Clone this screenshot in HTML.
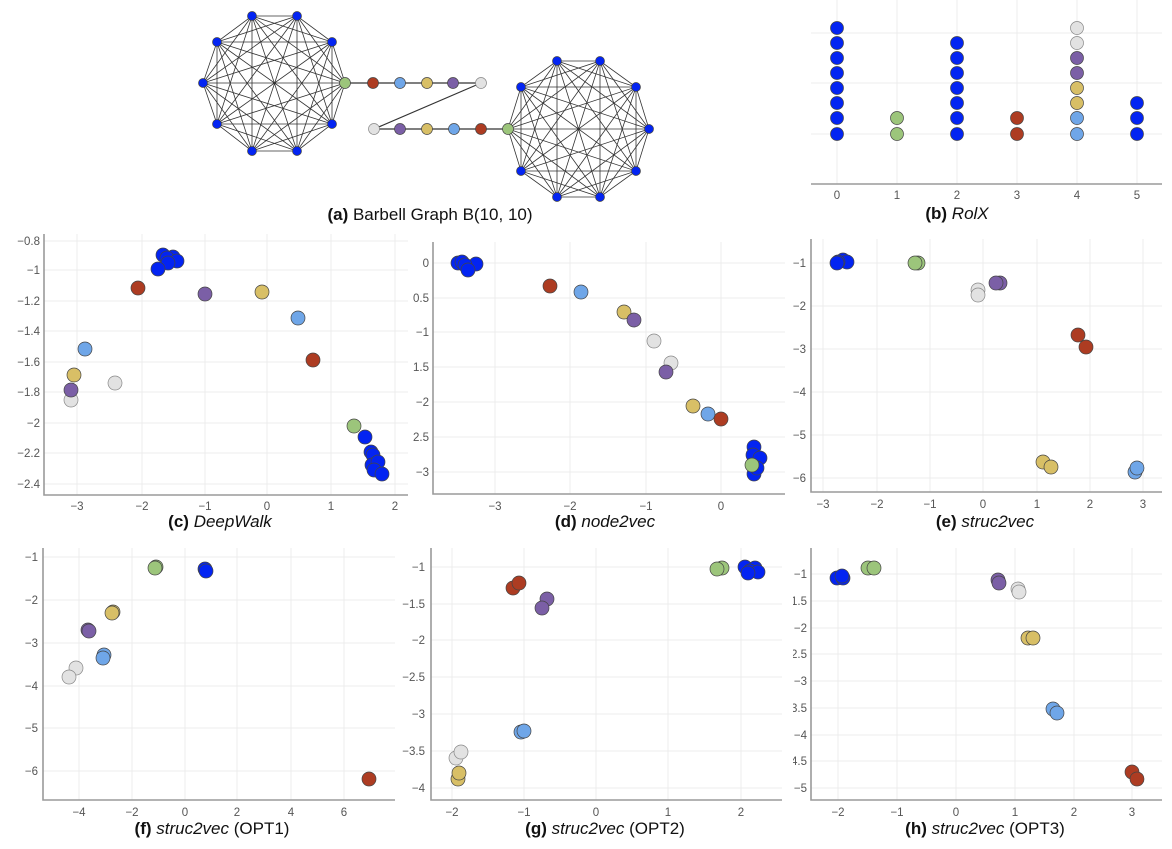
<!DOCTYPE html>
<html><head><meta charset="utf-8"><style>
html,body{margin:0;padding:0;background:#fff;}
svg{display:block;font-family:"Liberation Sans",sans-serif;}
.g{stroke:#ececec;stroke-width:1;}
.ax{stroke:#9a9a9a;stroke-width:1.6;fill:none;}
.t{font-size:11.5px;fill:#555;}
.cap{font-size:17px;fill:#111;}
circle{stroke:#444;stroke-width:0.7;}
.B{fill:#0324f2;} .G{fill:#9cc57b;} .R{fill:#ad3c22;} .L{fill:#6fa6e8;} .Y{fill:#d8bf66;} .P{fill:#7b5fa6;} .W{fill:#e2e2e2;stroke:#888;}
.e{fill:none;stroke:#333;stroke-width:0.8;}
</style></head><body>
<svg width="1172" height="849" viewBox="0 0 1172 849">
<!-- (a) barbell -->
<g class="e">
<polygon points="203,83 217,42 252,16 297,16 332,42 345,83 332,124 297,151 252,151 217,124"/>
<polygon points="203,83 252,16 332,42 332,124 252,151"/>
<polygon points="217,42 297,16 345,83 297,151 217,124"/>
<polygon points="203,83 297,16 332,124 217,124 252,16 345,83 252,151 217,42 332,42 297,151"/>
<polygon points="203,83 332,42 252,151 252,16 332,124"/>
<polygon points="217,42 345,83 217,124 297,16 297,151"/>
<path d="M203,83L345,83M217,42L332,124M252,16L297,151M297,16L252,151M332,42L217,124"/>
<polygon points="508,129 521,87 557,61 600,61 636,87 649,129 636,171 600,197 557,197 521,171"/>
<polygon points="508,129 557,61 636,87 636,171 557,197"/>
<polygon points="521,87 600,61 649,129 600,197 521,171"/>
<polygon points="508,129 600,61 636,171 521,171 557,61 649,129 557,197 521,87 636,87 600,197"/>
<polygon points="508,129 636,87 557,197 557,61 636,171"/>
<polygon points="521,87 649,129 521,171 600,61 600,197"/>
<path d="M508,129L649,129M521,87L636,171M557,61L600,197M600,61L557,197M636,87L521,171"/>
<path d="M345,83L481,83L374,129L508,129" stroke-width="1.2"/>
</g>
<g>
<circle class="B" cx="203" cy="83" r="4.5"/><circle class="B" cx="217" cy="42" r="4.5"/><circle class="B" cx="252" cy="16" r="4.5"/><circle class="B" cx="297" cy="16" r="4.5"/><circle class="B" cx="332" cy="42" r="4.5"/><circle class="B" cx="332" cy="124" r="4.5"/><circle class="B" cx="297" cy="151" r="4.5"/><circle class="B" cx="252" cy="151" r="4.5"/><circle class="B" cx="217" cy="124" r="4.5"/>
<circle class="G" cx="345" cy="83" r="5.5"/>
<circle class="R" cx="373" cy="83" r="5.5"/><circle class="L" cx="400" cy="83" r="5.5"/><circle class="Y" cx="427" cy="83" r="5.5"/><circle class="P" cx="453" cy="83" r="5.5"/><circle class="W" cx="481" cy="83" r="5.5"/>
<circle class="W" cx="374" cy="129" r="5.5"/><circle class="P" cx="400" cy="129" r="5.5"/><circle class="Y" cx="427" cy="129" r="5.5"/><circle class="L" cx="454" cy="129" r="5.5"/><circle class="R" cx="481" cy="129" r="5.5"/>
<circle class="G" cx="508" cy="129" r="5.5"/>
<circle class="B" cx="521" cy="87" r="4.5"/><circle class="B" cx="557" cy="61" r="4.5"/><circle class="B" cx="600" cy="61" r="4.5"/><circle class="B" cx="636" cy="87" r="4.5"/><circle class="B" cx="649" cy="129" r="4.5"/><circle class="B" cx="636" cy="171" r="4.5"/><circle class="B" cx="600" cy="197" r="4.5"/><circle class="B" cx="557" cy="197" r="4.5"/><circle class="B" cx="521" cy="171" r="4.5"/>
</g>
<text class="cap" x="430" y="220" text-anchor="middle"><tspan font-weight="bold">(a)</tspan> Barbell Graph B(10, 10)</text>

<!-- (b) RolX -->
<g class="g"><path d="M811,33H1162M811,83H1162M811,134H1162M837,0V184M897,0V184M957,0V184M1017,0V184M1077,0V184M1137,0V184"/></g>
<path class="ax" d="M811,184H1162"/>
<g class="t" text-anchor="middle"><text x="837" y="199">0</text><text x="897" y="199">1</text><text x="957" y="199">2</text><text x="1017" y="199">3</text><text x="1077" y="199">4</text><text x="1137" y="199">5</text></g>
<g>
<circle class="B" cx="837" cy="28" r="6.5"/><circle class="B" cx="837" cy="43" r="6.5"/><circle class="B" cx="837" cy="58" r="6.5"/><circle class="B" cx="837" cy="73" r="6.5"/><circle class="B" cx="837" cy="88" r="6.5"/><circle class="B" cx="837" cy="103" r="6.5"/><circle class="B" cx="837" cy="118" r="6.5"/><circle class="B" cx="837" cy="134" r="6.5"/>
<circle class="G" cx="897" cy="118" r="6.5"/><circle class="G" cx="897" cy="134" r="6.5"/>
<circle class="B" cx="957" cy="43" r="6.5"/><circle class="B" cx="957" cy="58" r="6.5"/><circle class="B" cx="957" cy="73" r="6.5"/><circle class="B" cx="957" cy="88" r="6.5"/><circle class="B" cx="957" cy="103" r="6.5"/><circle class="B" cx="957" cy="118" r="6.5"/><circle class="B" cx="957" cy="134" r="6.5"/>
<circle class="R" cx="1017" cy="118" r="6.5"/><circle class="R" cx="1017" cy="134" r="6.5"/>
<circle class="W" cx="1077" cy="28" r="6.5"/><circle class="W" cx="1077" cy="43" r="6.5"/><circle class="P" cx="1077" cy="58" r="6.5"/><circle class="P" cx="1077" cy="73" r="6.5"/><circle class="Y" cx="1077" cy="88" r="6.5"/><circle class="Y" cx="1077" cy="103" r="6.5"/><circle class="L" cx="1077" cy="118" r="6.5"/><circle class="L" cx="1077" cy="134" r="6.5"/>
<circle class="B" cx="1137" cy="103" r="6.5"/><circle class="B" cx="1137" cy="118" r="6.5"/><circle class="B" cx="1137" cy="134" r="6.5"/>
</g>
<text class="cap" x="957" y="219" text-anchor="middle"><tspan font-weight="bold">(b)</tspan> <tspan font-style="italic">RolX</tspan></text>

<!-- (c) DeepWalk -->
<g class="g"><path d="M44,241H408M44,270H408M44,301H408M44,331H408M44,362H408M44,392H408M44,423H408M44,453H408M44,484H408M77,234V495M142,234V495M205,234V495M267,234V495M331,234V495M395,234V495"/></g>
<path class="ax" d="M44,234V495H408"/>
<g class="t" text-anchor="end"><text x="40" y="245">−0.8</text><text x="40" y="274">−1</text><text x="40" y="305">−1.2</text><text x="40" y="335">−1.4</text><text x="40" y="366">−1.6</text><text x="40" y="396">−1.8</text><text x="40" y="427">−2</text><text x="40" y="457">−2.2</text><text x="40" y="488">−2.4</text></g>
<g class="t" text-anchor="middle"><text x="77" y="510">−3</text><text x="142" y="510">−2</text><text x="205" y="510">−1</text><text x="267" y="510">0</text><text x="331" y="510">1</text><text x="395" y="510">2</text></g>
<g>
<circle class="B" cx="163" cy="255" r="7"/><circle class="B" cx="173" cy="257" r="7"/><circle class="B" cx="167" cy="258" r="7"/><circle class="B" cx="177" cy="261" r="7"/><circle class="B" cx="168" cy="263" r="7"/><circle class="B" cx="158" cy="269" r="7"/>
<circle class="R" cx="138" cy="288" r="7"/><circle class="P" cx="205" cy="294" r="7"/><circle class="Y" cx="262" cy="292" r="7"/><circle class="L" cx="298" cy="318" r="7"/><circle class="R" cx="313" cy="360" r="7"/>
<circle class="L" cx="85" cy="349" r="7"/><circle class="Y" cx="74" cy="375" r="7"/><circle class="W" cx="115" cy="383" r="7"/><circle class="W" cx="71" cy="400" r="7"/><circle class="P" cx="71" cy="390" r="7"/>
<circle class="G" cx="354" cy="426" r="7"/><circle class="B" cx="365" cy="437" r="7"/><circle class="B" cx="371" cy="452" r="7"/><circle class="B" cx="373" cy="455" r="7"/><circle class="B" cx="372" cy="465" r="7"/><circle class="B" cx="378" cy="462" r="7"/><circle class="B" cx="374" cy="470" r="7"/><circle class="B" cx="382" cy="474" r="7"/>
</g>
<text class="cap" x="220" y="527" text-anchor="middle"><tspan font-weight="bold">(c)</tspan> <tspan font-style="italic">DeepWalk</tspan></text>

<!-- (d) node2vec -->
<g class="g"><path d="M433,263H785M433,298H785M433,332H785M433,367H785M433,402H785M433,437H785M433,472H785M495,242V494M570,242V494M646,242V494M721,242V494"/></g>
<path class="ax" d="M433,242V494H785"/>
<clipPath id="cd"><rect x="413" y="240" width="20" height="260"/></clipPath>
<g class="t" text-anchor="end" clip-path="url(#cd)"><text x="429" y="267">0</text><text x="429" y="302">−0.5</text><text x="429" y="336">−1</text><text x="429" y="371">−1.5</text><text x="429" y="406">−2</text><text x="429" y="441">−2.5</text><text x="429" y="476">−3</text></g>
<g class="t" text-anchor="middle"><text x="495" y="510">−3</text><text x="570" y="510">−2</text><text x="646" y="510">−1</text><text x="721" y="510">0</text></g>
<g>
<circle class="B" cx="458" cy="263" r="7"/><circle class="B" cx="476" cy="264" r="7"/><circle class="B" cx="462" cy="262" r="7"/><circle class="B" cx="465" cy="265" r="7"/><circle class="B" cx="468" cy="270" r="7"/>
<circle class="R" cx="550" cy="286" r="7"/><circle class="L" cx="581" cy="292" r="7"/><circle class="Y" cx="624" cy="312" r="7"/><circle class="P" cx="634" cy="320" r="7"/><circle class="W" cx="654" cy="341" r="7"/><circle class="W" cx="671" cy="363" r="7"/><circle class="P" cx="666" cy="372" r="7"/><circle class="Y" cx="693" cy="406" r="7"/><circle class="L" cx="708" cy="414" r="7"/><circle class="R" cx="721" cy="419" r="7"/>
<circle class="B" cx="754" cy="447" r="7"/><circle class="B" cx="753" cy="455" r="7"/><circle class="B" cx="760" cy="458" r="7"/><circle class="B" cx="754" cy="474" r="7"/><circle class="B" cx="757" cy="468" r="7"/><circle class="G" cx="752" cy="465" r="7"/>
</g>
<text class="cap" x="605" y="527" text-anchor="middle"><tspan font-weight="bold">(d)</tspan> <tspan font-style="italic">node2vec</tspan></text>

<!-- (e) struc2vec -->
<g class="g"><path d="M811,263H1162M811,306H1162M811,349H1162M811,392H1162M811,435H1162M811,478H1162M823,239V492M877,239V492M930,239V492M983,239V492M1037,239V492M1090,239V492M1143,239V492"/></g>
<path class="ax" d="M811,239V492H1162"/>
<g class="t" text-anchor="end"><text x="806" y="267">−1</text><text x="806" y="310">−2</text><text x="806" y="353">−3</text><text x="806" y="396">−4</text><text x="806" y="439">−5</text><text x="806" y="482">−6</text></g>
<g class="t" text-anchor="middle"><text x="823" y="508">−3</text><text x="877" y="508">−2</text><text x="930" y="508">−1</text><text x="983" y="508">0</text><text x="1037" y="508">1</text><text x="1090" y="508">2</text><text x="1143" y="508">3</text></g>
<g>
<circle class="B" cx="843" cy="260" r="7"/><circle class="B" cx="847" cy="262" r="7"/><circle class="B" cx="838" cy="262" r="7"/><circle class="B" cx="837" cy="263" r="7"/>
<circle class="G" cx="918" cy="263" r="7"/><circle class="G" cx="915" cy="263" r="7"/>
<circle class="W" cx="978" cy="290" r="7"/><circle class="W" cx="978" cy="295" r="7"/>
<circle class="P" cx="1000" cy="283" r="7"/><circle class="P" cx="996" cy="283" r="7"/>
<circle class="R" cx="1078" cy="335" r="7"/><circle class="R" cx="1086" cy="347" r="7"/>
<circle class="Y" cx="1043" cy="462" r="7"/><circle class="Y" cx="1051" cy="467" r="7"/>
<circle class="L" cx="1135" cy="472" r="7"/><circle class="L" cx="1137" cy="468" r="7"/>
</g>
<text class="cap" x="985" y="527" text-anchor="middle"><tspan font-weight="bold">(e)</tspan> <tspan font-style="italic">struc2vec</tspan></text>

<!-- (f) OPT1 -->
<g class="g"><path d="M43,557H395M43,600H395M43,643H395M43,686H395M43,728H395M43,771H395M79,548V800M132,548V800M185,548V800M237,548V800M291,548V800M344,548V800"/></g>
<path class="ax" d="M43,548V800H395"/>
<g class="t" text-anchor="end"><text x="38" y="561">−1</text><text x="38" y="604">−2</text><text x="38" y="647">−3</text><text x="38" y="690">−4</text><text x="38" y="732">−5</text><text x="38" y="775">−6</text></g>
<g class="t" text-anchor="middle"><text x="79" y="816">−4</text><text x="132" y="816">−2</text><text x="185" y="816">0</text><text x="237" y="816">2</text><text x="291" y="816">4</text><text x="344" y="816">6</text></g>
<g>
<circle class="G" cx="156" cy="567" r="7"/><circle class="G" cx="155" cy="568" r="7"/>
<circle class="B" cx="205" cy="569" r="7"/><circle class="B" cx="206" cy="571" r="7"/>
<circle class="Y" cx="113" cy="612" r="7"/><circle class="Y" cx="112" cy="613" r="7"/>
<circle class="P" cx="88" cy="630" r="7"/><circle class="P" cx="89" cy="631" r="7"/>
<circle class="L" cx="104" cy="655" r="7"/><circle class="L" cx="103" cy="658" r="7"/>
<circle class="W" cx="76" cy="668" r="7"/><circle class="W" cx="69" cy="677" r="7"/>
<circle class="R" cx="369" cy="779" r="7"/>
</g>
<text class="cap" x="212" y="834" text-anchor="middle"><tspan font-weight="bold">(f)</tspan> <tspan font-style="italic">struc2vec</tspan> (OPT1)</text>

<!-- (g) OPT2 -->
<g class="g"><path d="M431,567H782M431,604H782M431,640H782M431,677H782M431,714H782M431,751H782M431,788H782M452,548V800M524,548V800M596,548V800M668,548V800M741,548V800"/></g>
<path class="ax" d="M431,548V800H782"/>
<g class="t" text-anchor="end"><text x="425" y="571">−1</text><text x="425" y="608">−1.5</text><text x="425" y="644">−2</text><text x="425" y="681">−2.5</text><text x="425" y="718">−3</text><text x="425" y="755">−3.5</text><text x="425" y="792">−4</text></g>
<g class="t" text-anchor="middle"><text x="452" y="816">−2</text><text x="524" y="816">−1</text><text x="596" y="816">0</text><text x="668" y="816">1</text><text x="741" y="816">2</text></g>
<g>
<circle class="G" cx="722" cy="568" r="7"/><circle class="G" cx="717" cy="569" r="7"/>
<circle class="B" cx="745" cy="567" r="7"/><circle class="B" cx="755" cy="568" r="7"/><circle class="B" cx="750" cy="571" r="7"/><circle class="B" cx="758" cy="572" r="7"/><circle class="B" cx="748" cy="573" r="7"/>
<circle class="R" cx="513" cy="588" r="7"/><circle class="R" cx="519" cy="583" r="7"/>
<circle class="P" cx="547" cy="599" r="7"/><circle class="P" cx="542" cy="608" r="7"/>
<circle class="L" cx="521" cy="732" r="7"/><circle class="L" cx="524" cy="731" r="7"/>
<circle class="W" cx="456" cy="758" r="7"/><circle class="W" cx="461" cy="752" r="7"/>
<circle class="Y" cx="458" cy="779" r="7"/><circle class="Y" cx="459" cy="773" r="7"/>
</g>
<text class="cap" x="605" y="834" text-anchor="middle"><tspan font-weight="bold">(g)</tspan> <tspan font-style="italic">struc2vec</tspan> (OPT2)</text>

<!-- (h) OPT3 -->
<g class="g"><path d="M811,574H1162M811,601H1162M811,628H1162M811,654H1162M811,681H1162M811,708H1162M811,735H1162M811,761H1162M811,788H1162M838,548V800M897,548V800M956,548V800M1015,548V800M1074,548V800M1132,548V800"/></g>
<path class="ax" d="M811,548V800H1162"/>
<clipPath id="ch"><rect x="793" y="540" width="18" height="270"/></clipPath>
<g class="t" text-anchor="end" clip-path="url(#ch)"><text x="807" y="578">−1</text><text x="807" y="605">−1.5</text><text x="807" y="632">−2</text><text x="807" y="658">−2.5</text><text x="807" y="685">−3</text><text x="807" y="712">−3.5</text><text x="807" y="739">−4</text><text x="807" y="765">−4.5</text><text x="807" y="792">−5</text></g>
<g class="t" text-anchor="middle"><text x="838" y="816">−2</text><text x="897" y="816">−1</text><text x="956" y="816">0</text><text x="1015" y="816">1</text><text x="1074" y="816">2</text><text x="1132" y="816">3</text></g>
<g>
<circle class="B" cx="837" cy="578" r="7"/><circle class="B" cx="843" cy="578" r="7"/><circle class="B" cx="842" cy="576" r="7"/>
<circle class="G" cx="868" cy="568" r="7"/><circle class="G" cx="874" cy="568" r="7"/>
<circle class="P" cx="998" cy="580" r="7"/><circle class="P" cx="999" cy="583" r="7"/>
<circle class="W" cx="1018" cy="589" r="7"/><circle class="W" cx="1019" cy="592" r="7"/>
<circle class="Y" cx="1028" cy="638" r="7"/><circle class="Y" cx="1033" cy="638" r="7"/>
<circle class="L" cx="1053" cy="709" r="7"/><circle class="L" cx="1057" cy="713" r="7"/>
<circle class="R" cx="1132" cy="772" r="7"/><circle class="R" cx="1137" cy="779" r="7"/>
</g>
<text class="cap" x="985" y="834" text-anchor="middle"><tspan font-weight="bold">(h)</tspan> <tspan font-style="italic">struc2vec</tspan> (OPT3)</text>
</svg>
</body></html>
